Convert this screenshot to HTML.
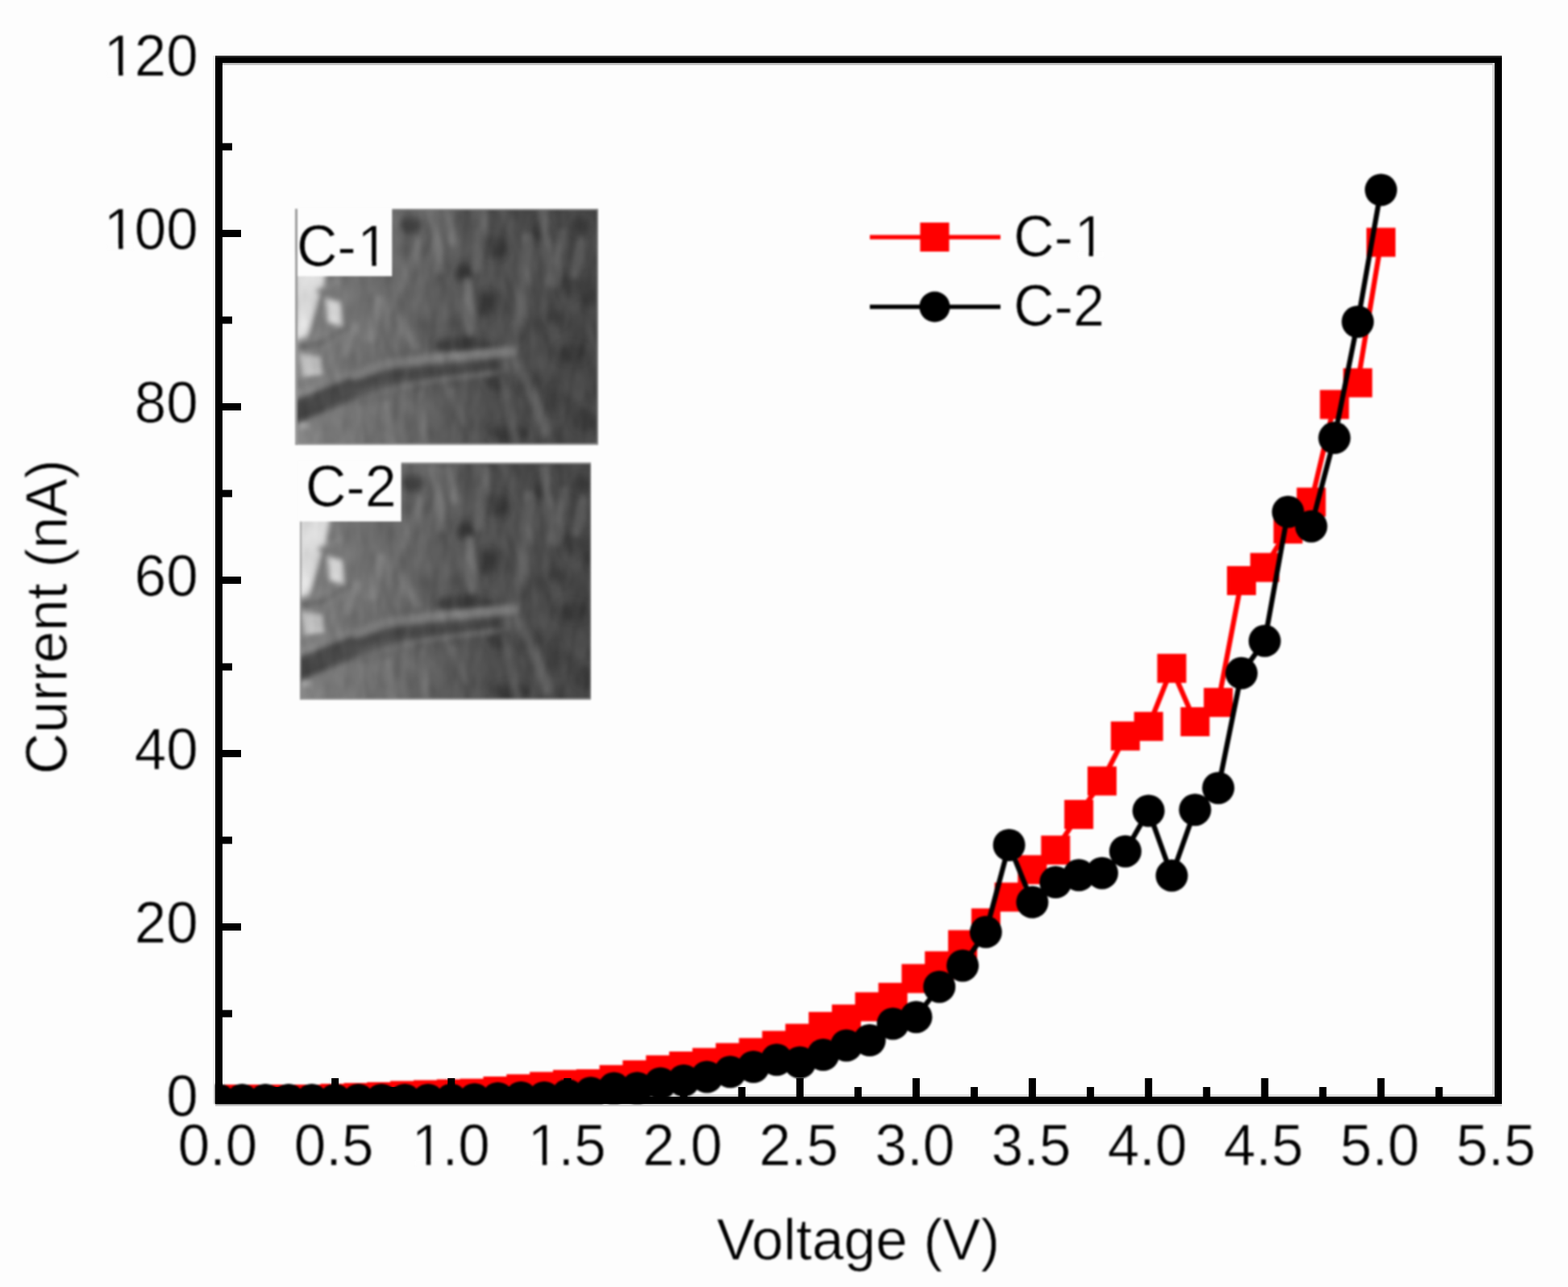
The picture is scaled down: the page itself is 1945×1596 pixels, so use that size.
<!DOCTYPE html>
<html lang="en"><head><meta charset="utf-8"><title>I-V curve: Current (nA) vs Voltage (V)</title>
<style>html,body{margin:0;padding:0;background:#fdfdfd;overflow:hidden;}svg{display:block;}text{font-family:"Liberation Sans",Arial,sans-serif;fill:#000;stroke:#fdfdfd;stroke-width:0.7px;}</style>
</head><body>
<svg width="1945" height="1596" viewBox="0 0 1945 1596">
<defs><clipPath id="plotclip"><rect x="267" y="69" width="1596" height="1300"/></clipPath>
<filter id="soft" x="0" y="0" width="1945" height="1596" filterUnits="userSpaceOnUse" color-interpolation-filters="sRGB"><feGaussianBlur stdDeviation="0.9"/></filter></defs>
<rect x="0" y="0" width="1945" height="1596" fill="#fdfdfd"/>
<rect x="276" y="78" width="1578" height="2.6" fill="#b9b9b9"/>
<rect x="1851.2" y="78" width="2.8" height="1282" fill="#d2d2d2"/>
<rect x="276" y="1357.2" width="1578" height="2.8" fill="#dadada"/>
<rect x="267" y="1369" width="1596" height="3" fill="#d4d4d4"/>
<rect x="264.3" y="69" width="2.7" height="1300" fill="#e9e9e9"/>
<g filter="url(#soft)">
<defs>
<linearGradient id="semg" x1="366" y1="0" x2="742" y2="0" gradientUnits="userSpaceOnUse">
<stop offset="0" stop-color="#8a8a8a"/><stop offset="0.1" stop-color="#787878"/><stop offset="0.3" stop-color="#6a6a6a"/><stop offset="0.5" stop-color="#5a5a5a"/><stop offset="0.65" stop-color="#4e4e4e"/><stop offset="1" stop-color="#464646"/>
</linearGradient>
<filter id="b3" x="-20%" y="-20%" width="140%" height="140%"><feGaussianBlur stdDeviation="3"/></filter>
<filter id="b5" x="-30%" y="-30%" width="160%" height="160%"><feGaussianBlur stdDeviation="5"/></filter>
<filter id="b2" x="-20%" y="-20%" width="140%" height="140%"><feGaussianBlur stdDeviation="3.2"/></filter>
<filter id="tex" x="0" y="0" width="100%" height="100%" color-interpolation-filters="sRGB">
<feTurbulence type="fractalNoise" baseFrequency="0.07 0.028" numOctaves="2" seed="7" result="n"/>
<feColorMatrix in="n" type="matrix" values="1 0 0 0 0  1 0 0 0 0  1 0 0 0 0  0 0 0 0 1" result="g"/>
<feGaussianBlur in="g" stdDeviation="1.2" result="gb"/>
<feComposite in="SourceGraphic" in2="gb" operator="arithmetic" k1="0" k2="1" k3="0.13" k4="-0.065"/>
</filter>
<clipPath id="c1"><rect x="366.3" y="258.9" width="375.5" height="292.7"/></clipPath>
<clipPath id="c2"><rect x="369.8" y="253.8" width="360.9" height="293.6"/></clipPath>
<g id="sem">
<g filter="url(#tex)">
<rect x="340" y="240" width="430" height="330" fill="url(#semg)"/>
<!-- dark patches -->
<g filter="url(#b5)" fill="#363636" opacity="0.8">
<ellipse cx="510" cy="279" rx="14" ry="11"/>
<ellipse cx="612" cy="306" rx="15" ry="15"/>
<ellipse cx="672" cy="286" rx="9" ry="13"/>
<ellipse cx="603" cy="378" rx="10" ry="16"/>
<ellipse cx="574" cy="429" rx="36" ry="11"/>
<ellipse cx="642" cy="413" rx="6" ry="13"/>
<ellipse cx="709" cy="438" rx="20" ry="11"/>
<ellipse cx="615" cy="473" rx="13" ry="12"/>
<ellipse cx="652" cy="476" rx="7" ry="10"/>
<ellipse cx="631" cy="538" rx="24" ry="10"/>
<ellipse cx="705" cy="355" rx="8" ry="16"/>
<ellipse cx="733" cy="362" rx="7" ry="22"/>
<ellipse cx="689" cy="496" rx="8" ry="16"/>
<ellipse cx="725" cy="520" rx="14" ry="14"/>
<ellipse cx="575" cy="340" rx="10" ry="12"/>
<ellipse cx="720" cy="280" rx="12" ry="10"/>
<ellipse cx="690" cy="395" rx="10" ry="10"/>
</g>
<!-- light fibres -->
<g filter="url(#b2)" stroke="#7a7a7a" fill="none" stroke-linecap="round" opacity="0.62">
<path d="M538 262 L545 334" stroke-width="13" stroke="#7e7e7e"/>
<path d="M553 262 L561 300" stroke-width="10"/>
<path d="M580 350 L583 410" stroke-width="13" stroke="#787878"/>
<path d="M601 262 L591 334" stroke-width="11" stroke="#727272"/>
<path d="M654 296 L647 378 L633 438" stroke-width="14" stroke="#6e6e6e"/>
<path d="M672 262 L684 350" stroke-width="11" stroke="#6c6c6c"/>
<path d="M697 288 L687 352" stroke-width="11" stroke="#6a6a6a"/>
<path d="M722 300 L712 340" stroke-width="11" stroke="#666"/>
<path d="M638 447 L663 493 L676 535" stroke-width="13" stroke="#686868"/>
<path d="M625 470 L640 548" stroke-width="10" stroke="#626262"/>
<path d="M520 300 L500 355" stroke-width="11" stroke="#787878"/>
<path d="M470 372 L459 420" stroke-width="11" stroke="#8a8a8a"/>
<path d="M440 405 L428 440" stroke-width="10" stroke="#8c8c8c"/>
<path d="M495 395 L515 430" stroke-width="10" stroke="#7c7c7c"/>
<path d="M480 500 L484 548" stroke-width="8" stroke="#808080"/>
<path d="M498 490 L503 548" stroke-width="6" stroke="#7c7c7c"/>
<path d="M522 488 L528 548" stroke-width="8" stroke="#787878"/>
<path d="M560 484 L575 525" stroke-width="8" stroke="#727272"/>
<path d="M445 505 L450 548" stroke-width="8" stroke="#848484"/>
</g>
<!-- bright left region -->
<g filter="url(#b3)">
<path d="M366 316 L408 316 L399 368 L380 418 L366 422 Z" fill="#dcdcdc"/>
<path d="M406 372 L420 376 L422 402 L408 398 Z" fill="#d6d6d6" stroke="#d6d6d6" stroke-width="4"/>
<path d="M374 440 L396 444 L398 464 L378 466 Z" fill="#c4c4c4" stroke="#c4c4c4" stroke-width="4"/>
<ellipse cx="377" cy="527" rx="6" ry="5" fill="#b0b0b0"/>
<path d="M384 422 L402 356" stroke="#6e6e6e" stroke-width="7" fill="none"/>
<path d="M392 362 L420 348" stroke="#858585" stroke-width="5" fill="none"/>
<path d="M372 430 L400 425 L430 405" stroke="#666" stroke-width="6" fill="none"/>
</g>
<!-- main fibre -->
<g filter="url(#b3)" fill="none" stroke-linecap="butt">
<path d="M350 516 C395 500 430 486 458 474 C490 463 540 460 632 449" stroke="#585858" stroke-width="28"/>
<path d="M350 478 C400 474 430 470 474 453 C500 447 550 443 640 435" stroke="#7c7c7c" stroke-width="11"/>
<path d="M430 482 C460 470 500 463 551 460 C580 457 600 455 622 451" stroke="#464646" stroke-width="14"/>
<path d="M350 517 C380 505 410 492 440 479" stroke="#4a4a4a" stroke-width="25"/>
<path d="M440 497 C470 484 520 472 610 463" stroke="#727272" stroke-width="4"/>
</g>
</g>
</g>
</defs>
<g id="inset1">
<use href="#sem" clip-path="url(#c1)"/>
<rect x="366.3" y="258.9" width="2.8" height="292.7" fill="#9a9a9a"/>
<rect x="486" y="258.9" width="255.8" height="2.2" fill="#8c8c8c" opacity="0.8"/>
<rect x="739.8" y="258.9" width="2" height="292.7" fill="#8a8a8a" opacity="0.7"/>
<rect x="366.3" y="549.4" width="375.5" height="2.2" fill="#9a9a9a" opacity="0.8"/>
<rect x="369" y="258" width="117.3" height="84.5" fill="#fdfdfd"/>
<text transform="translate(368.00,330.00) scale(1,1.025)" font-size="70">C-<tspan dx="1.5">1</tspan></text><rect x="447.56" y="323.84" width="13.81" height="7.23" fill="#fdfdfd"/><rect x="466.75" y="323.84" width="13.36" height="7.23" fill="#fdfdfd"/>
</g>
<g id="inset2">
<g transform="translate(2.3,320)"><use href="#sem" clip-path="url(#c2)"/></g>
<rect x="497" y="573.8" width="236" height="2.2" fill="#8c8c8c" opacity="0.8"/>
<rect x="372.1" y="573.8" width="2" height="293.6" fill="#8e8e8e" opacity="0.7"/>
<rect x="731" y="573.8" width="2" height="293.6" fill="#8a8a8a" opacity="0.5"/>
<rect x="372.1" y="865.4" width="360.9" height="2" fill="#9a9a9a" opacity="0.7"/>
<rect x="370" y="572" width="127.7" height="74.7" fill="#fdfdfd"/>
<text transform="translate(379.00,627.50) scale(1,1.025)" font-size="70">C-2</text>
</g>

<g clip-path="url(#plotclip)">
<polyline points="271.5,1363.0 300.3,1363.0 329.2,1363.0 358.0,1363.0 386.8,1363.0 415.6,1362.0 444.5,1361.0 473.3,1360.0 502.1,1358.5 531.0,1357.5 559.8,1356.5 588.6,1355.7 617.5,1353.0 646.3,1350.2 675.1,1347.3 704.0,1344.8 732.8,1344.0 761.6,1338.8 790.4,1332.9 819.3,1326.7 848.1,1322.0 876.9,1317.6 905.8,1311.5 934.6,1305.3 963.4,1296.4 992.2,1287.6 1021.1,1272.9 1049.9,1263.7 1078.7,1248.5 1107.6,1236.8 1136.4,1213.5 1165.2,1197.7 1194.1,1171.5 1222.9,1144.5 1251.7,1112.5 1280.5,1078.5 1309.4,1054.2 1338.2,1010.0 1367.0,968.5 1395.9,912.7 1424.7,900.8 1453.5,828.8 1482.4,895.0 1511.2,871.1 1540.0,720.0 1568.8,703.7 1597.7,656.1 1626.5,622.7 1655.3,501.6 1684.2,474.7 1713.0,300.5" fill="none" stroke="#ff0000" stroke-width="6.3" stroke-linejoin="round"/>
<rect x="253.5" y="1345.0" width="36" height="36" fill="#ff0000"/>
<rect x="282.3" y="1345.0" width="36" height="36" fill="#ff0000"/>
<rect x="311.2" y="1345.0" width="36" height="36" fill="#ff0000"/>
<rect x="340.0" y="1345.0" width="36" height="36" fill="#ff0000"/>
<rect x="368.8" y="1345.0" width="36" height="36" fill="#ff0000"/>
<rect x="397.6" y="1344.0" width="36" height="36" fill="#ff0000"/>
<rect x="426.5" y="1343.0" width="36" height="36" fill="#ff0000"/>
<rect x="455.3" y="1342.0" width="36" height="36" fill="#ff0000"/>
<rect x="484.1" y="1340.5" width="36" height="36" fill="#ff0000"/>
<rect x="513.0" y="1339.5" width="36" height="36" fill="#ff0000"/>
<rect x="541.8" y="1338.5" width="36" height="36" fill="#ff0000"/>
<rect x="570.6" y="1337.7" width="36" height="36" fill="#ff0000"/>
<rect x="599.5" y="1335.0" width="36" height="36" fill="#ff0000"/>
<rect x="628.3" y="1332.2" width="36" height="36" fill="#ff0000"/>
<rect x="657.1" y="1329.3" width="36" height="36" fill="#ff0000"/>
<rect x="686.0" y="1326.8" width="36" height="36" fill="#ff0000"/>
<rect x="714.8" y="1326.0" width="36" height="36" fill="#ff0000"/>
<rect x="743.6" y="1320.8" width="36" height="36" fill="#ff0000"/>
<rect x="772.4" y="1314.9" width="36" height="36" fill="#ff0000"/>
<rect x="801.3" y="1308.7" width="36" height="36" fill="#ff0000"/>
<rect x="830.1" y="1304.0" width="36" height="36" fill="#ff0000"/>
<rect x="858.9" y="1299.6" width="36" height="36" fill="#ff0000"/>
<rect x="887.8" y="1293.5" width="36" height="36" fill="#ff0000"/>
<rect x="916.6" y="1287.3" width="36" height="36" fill="#ff0000"/>
<rect x="945.4" y="1278.4" width="36" height="36" fill="#ff0000"/>
<rect x="974.2" y="1269.6" width="36" height="36" fill="#ff0000"/>
<rect x="1003.1" y="1254.9" width="36" height="36" fill="#ff0000"/>
<rect x="1031.9" y="1245.7" width="36" height="36" fill="#ff0000"/>
<rect x="1060.7" y="1230.5" width="36" height="36" fill="#ff0000"/>
<rect x="1089.6" y="1218.8" width="36" height="36" fill="#ff0000"/>
<rect x="1118.4" y="1195.5" width="36" height="36" fill="#ff0000"/>
<rect x="1147.2" y="1179.7" width="36" height="36" fill="#ff0000"/>
<rect x="1176.1" y="1153.5" width="36" height="36" fill="#ff0000"/>
<rect x="1204.9" y="1126.5" width="36" height="36" fill="#ff0000"/>
<rect x="1233.7" y="1094.5" width="36" height="36" fill="#ff0000"/>
<rect x="1262.5" y="1060.5" width="36" height="36" fill="#ff0000"/>
<rect x="1291.4" y="1036.2" width="36" height="36" fill="#ff0000"/>
<rect x="1320.2" y="992.0" width="36" height="36" fill="#ff0000"/>
<rect x="1349.0" y="950.5" width="36" height="36" fill="#ff0000"/>
<rect x="1377.9" y="894.7" width="36" height="36" fill="#ff0000"/>
<rect x="1406.7" y="882.8" width="36" height="36" fill="#ff0000"/>
<rect x="1435.5" y="810.8" width="36" height="36" fill="#ff0000"/>
<rect x="1464.4" y="877.0" width="36" height="36" fill="#ff0000"/>
<rect x="1493.2" y="853.1" width="36" height="36" fill="#ff0000"/>
<rect x="1522.0" y="702.0" width="36" height="36" fill="#ff0000"/>
<rect x="1550.8" y="685.7" width="36" height="36" fill="#ff0000"/>
<rect x="1579.7" y="638.1" width="36" height="36" fill="#ff0000"/>
<rect x="1608.5" y="604.7" width="36" height="36" fill="#ff0000"/>
<rect x="1637.3" y="483.6" width="36" height="36" fill="#ff0000"/>
<rect x="1666.2" y="456.7" width="36" height="36" fill="#ff0000"/>
<rect x="1695.0" y="282.5" width="36" height="36" fill="#ff0000"/>
<polyline points="271.5,1364.0 300.3,1364.0 329.2,1364.0 358.0,1364.0 386.8,1364.0 415.6,1364.0 444.5,1364.0 473.3,1364.0 502.1,1364.0 531.0,1364.0 559.8,1363.8 588.6,1363.2 617.5,1362.0 646.3,1361.0 675.1,1361.0 704.0,1358.0 732.8,1355.3 761.6,1349.6 790.4,1349.3 819.3,1343.4 848.1,1340.0 876.9,1335.5 905.8,1329.3 934.6,1323.0 963.4,1314.3 992.2,1317.5 1021.1,1308.0 1049.9,1296.5 1078.7,1290.0 1107.6,1269.5 1136.4,1261.2 1165.2,1223.7 1194.1,1197.4 1222.9,1155.8 1251.7,1047.9 1280.5,1118.8 1309.4,1094.1 1338.2,1085.3 1367.0,1082.7 1395.9,1055.7 1424.7,1005.4 1453.5,1085.8 1482.4,1004.2 1511.2,977.2 1540.0,834.8 1568.8,794.8 1597.7,634.8 1626.5,652.7 1655.3,543.1 1684.2,399.0 1713.0,235.5" fill="none" stroke="#000" stroke-width="6.3" stroke-linejoin="round"/>
<circle cx="271.5" cy="1364.0" r="20" fill="#000"/>
<circle cx="300.3" cy="1364.0" r="20" fill="#000"/>
<circle cx="329.2" cy="1364.0" r="20" fill="#000"/>
<circle cx="358.0" cy="1364.0" r="20" fill="#000"/>
<circle cx="386.8" cy="1364.0" r="20" fill="#000"/>
<circle cx="415.6" cy="1364.0" r="20" fill="#000"/>
<circle cx="444.5" cy="1364.0" r="20" fill="#000"/>
<circle cx="473.3" cy="1364.0" r="20" fill="#000"/>
<circle cx="502.1" cy="1364.0" r="20" fill="#000"/>
<circle cx="531.0" cy="1364.0" r="20" fill="#000"/>
<circle cx="559.8" cy="1363.8" r="20" fill="#000"/>
<circle cx="588.6" cy="1363.2" r="20" fill="#000"/>
<circle cx="617.5" cy="1362.0" r="20" fill="#000"/>
<circle cx="646.3" cy="1361.0" r="20" fill="#000"/>
<circle cx="675.1" cy="1361.0" r="20" fill="#000"/>
<circle cx="704.0" cy="1358.0" r="20" fill="#000"/>
<circle cx="732.8" cy="1355.3" r="20" fill="#000"/>
<circle cx="761.6" cy="1349.6" r="20" fill="#000"/>
<circle cx="790.4" cy="1349.3" r="20" fill="#000"/>
<circle cx="819.3" cy="1343.4" r="20" fill="#000"/>
<circle cx="848.1" cy="1340.0" r="20" fill="#000"/>
<circle cx="876.9" cy="1335.5" r="20" fill="#000"/>
<circle cx="905.8" cy="1329.3" r="20" fill="#000"/>
<circle cx="934.6" cy="1323.0" r="20" fill="#000"/>
<circle cx="963.4" cy="1314.3" r="20" fill="#000"/>
<circle cx="992.2" cy="1317.5" r="20" fill="#000"/>
<circle cx="1021.1" cy="1308.0" r="20" fill="#000"/>
<circle cx="1049.9" cy="1296.5" r="20" fill="#000"/>
<circle cx="1078.7" cy="1290.0" r="20" fill="#000"/>
<circle cx="1107.6" cy="1269.5" r="20" fill="#000"/>
<circle cx="1136.4" cy="1261.2" r="20" fill="#000"/>
<circle cx="1165.2" cy="1223.7" r="20" fill="#000"/>
<circle cx="1194.1" cy="1197.4" r="20" fill="#000"/>
<circle cx="1222.9" cy="1155.8" r="20" fill="#000"/>
<circle cx="1251.7" cy="1047.9" r="20" fill="#000"/>
<circle cx="1280.5" cy="1118.8" r="20" fill="#000"/>
<circle cx="1309.4" cy="1094.1" r="20" fill="#000"/>
<circle cx="1338.2" cy="1085.3" r="20" fill="#000"/>
<circle cx="1367.0" cy="1082.7" r="20" fill="#000"/>
<circle cx="1395.9" cy="1055.7" r="20" fill="#000"/>
<circle cx="1424.7" cy="1005.4" r="20" fill="#000"/>
<circle cx="1453.5" cy="1085.8" r="20" fill="#000"/>
<circle cx="1482.4" cy="1004.2" r="20" fill="#000"/>
<circle cx="1511.2" cy="977.2" r="20" fill="#000"/>
<circle cx="1540.0" cy="834.8" r="20" fill="#000"/>
<circle cx="1568.8" cy="794.8" r="20" fill="#000"/>
<circle cx="1597.7" cy="634.8" r="20" fill="#000"/>
<circle cx="1626.5" cy="652.7" r="20" fill="#000"/>
<circle cx="1655.3" cy="543.1" r="20" fill="#000"/>
<circle cx="1684.2" cy="399.0" r="20" fill="#000"/>
<circle cx="1713.0" cy="235.5" r="20" fill="#000"/>
</g>
</g>
<rect x="271.5" y="73.5" width="1587" height="1291" fill="none" stroke="#000" stroke-width="9"/>
<rect x="267" y="69" width="1596" height="2" fill="#333"/>
<rect x="276" y="1252.50" width="12" height="9" fill="#000"/>
<rect x="276" y="1145.00" width="23" height="9" fill="#000"/>
<rect x="276" y="1037.50" width="12" height="9" fill="#000"/>
<rect x="276" y="930.00" width="23" height="9" fill="#000"/>
<rect x="276" y="822.50" width="12" height="9" fill="#000"/>
<rect x="276" y="715.00" width="23" height="9" fill="#000"/>
<rect x="276" y="607.50" width="12" height="9" fill="#000"/>
<rect x="276" y="500.00" width="23" height="9" fill="#000"/>
<rect x="276" y="392.50" width="12" height="9" fill="#000"/>
<rect x="276" y="285.00" width="23" height="9" fill="#000"/>
<rect x="276" y="177.50" width="12" height="9" fill="#000"/>
<rect x="339.07" y="1348" width="9" height="12" fill="#000"/>
<rect x="411.15" y="1337" width="9" height="23" fill="#000"/>
<rect x="483.23" y="1348" width="9" height="12" fill="#000"/>
<rect x="555.30" y="1337" width="9" height="23" fill="#000"/>
<rect x="627.38" y="1348" width="9" height="12" fill="#000"/>
<rect x="699.45" y="1337" width="9" height="23" fill="#000"/>
<rect x="771.52" y="1348" width="9" height="12" fill="#000"/>
<rect x="843.60" y="1337" width="9" height="23" fill="#000"/>
<rect x="915.67" y="1348" width="9" height="12" fill="#000"/>
<rect x="987.75" y="1337" width="9" height="23" fill="#000"/>
<rect x="1059.83" y="1348" width="9" height="12" fill="#000"/>
<rect x="1131.90" y="1337" width="9" height="23" fill="#000"/>
<rect x="1203.97" y="1348" width="9" height="12" fill="#000"/>
<rect x="1276.05" y="1337" width="9" height="23" fill="#000"/>
<rect x="1348.12" y="1348" width="9" height="12" fill="#000"/>
<rect x="1420.20" y="1337" width="9" height="23" fill="#000"/>
<rect x="1492.27" y="1348" width="9" height="12" fill="#000"/>
<rect x="1564.35" y="1337" width="9" height="23" fill="#000"/>
<rect x="1636.42" y="1348" width="9" height="12" fill="#000"/>
<rect x="1708.50" y="1337" width="9" height="23" fill="#000"/>
<rect x="1780.57" y="1348" width="9" height="12" fill="#000"/>
<g filter="url(#soft)">
<text transform="translate(206.31,1383.80) scale(1,1.025)" font-size="71">0</text>
<text transform="translate(166.83,1168.80) scale(1,1.025)" font-size="71">20</text>
<text transform="translate(166.83,953.80) scale(1,1.025)" font-size="71">40</text>
<text transform="translate(166.83,738.80) scale(1,1.025)" font-size="71">60</text>
<text transform="translate(166.83,523.80) scale(1,1.025)" font-size="71">80</text>
<text transform="translate(127.34,308.80) scale(1,1.025)" font-size="71"><tspan dx="1.5">1</tspan><tspan dx="-1.5">00</tspan></text><rect x="133.10" y="302.56" width="14.00" height="7.30" fill="#fdfdfd"/><rect x="152.57" y="302.56" width="13.55" height="7.30" fill="#fdfdfd"/>
<text transform="translate(127.34,93.80) scale(1,1.025)" font-size="71"><tspan dx="1.5">1</tspan><tspan dx="-1.5">20</tspan></text><rect x="133.10" y="87.56" width="14.00" height="7.30" fill="#fdfdfd"/><rect x="152.57" y="87.56" width="13.55" height="7.30" fill="#fdfdfd"/>
<text transform="translate(220.65,1445.00) scale(1,1.025)" font-size="71">0.0</text>
<text transform="translate(364.80,1445.00) scale(1,1.025)" font-size="71">0.5</text>
<text transform="translate(508.95,1445.00) scale(1,1.025)" font-size="71"><tspan dx="1.5">1</tspan><tspan dx="-1.5">.0</tspan></text><rect x="514.71" y="1438.76" width="14.00" height="7.30" fill="#fdfdfd"/><rect x="534.18" y="1438.76" width="13.55" height="7.30" fill="#fdfdfd"/>
<text transform="translate(653.10,1445.00) scale(1,1.025)" font-size="71"><tspan dx="1.5">1</tspan><tspan dx="-1.5">.5</tspan></text><rect x="658.86" y="1438.76" width="14.00" height="7.30" fill="#fdfdfd"/><rect x="678.33" y="1438.76" width="13.55" height="7.30" fill="#fdfdfd"/>
<text transform="translate(797.25,1445.00) scale(1,1.025)" font-size="71">2.0</text>
<text transform="translate(941.40,1445.00) scale(1,1.025)" font-size="71">2.5</text>
<text transform="translate(1085.55,1445.00) scale(1,1.025)" font-size="71">3.0</text>
<text transform="translate(1229.70,1445.00) scale(1,1.025)" font-size="71">3.5</text>
<text transform="translate(1373.85,1445.00) scale(1,1.025)" font-size="71">4.0</text>
<text transform="translate(1518.00,1445.00) scale(1,1.025)" font-size="71">4.5</text>
<text transform="translate(1662.15,1445.00) scale(1,1.025)" font-size="71">5.0</text>
<text transform="translate(1806.30,1445.00) scale(1,1.025)" font-size="71">5.5</text>
<text transform="translate(1064.5,1561.5) scale(1,1.025)" font-size="71" text-anchor="middle">Voltage (V)</text>
<text transform="translate(82.3,765) rotate(-90) scale(1,1.025)" font-size="71" text-anchor="middle">Current (nA)</text>
<rect x="1079" y="291.4" width="162" height="5.4" fill="#ff0000"/>
<rect x="1141.4" y="276" width="36" height="36" fill="#ff0000"/>
<rect x="1079" y="377.8" width="162" height="5.4" fill="#000"/>
<circle cx="1159.4" cy="380.5" r="19" fill="#000"/>
<text transform="translate(1257.30,318.20) scale(1,1.025)" font-size="70">C-<tspan dx="1.5">1</tspan></text><rect x="1336.86" y="312.04" width="13.81" height="7.23" fill="#fdfdfd"/><rect x="1356.05" y="312.04" width="13.36" height="7.23" fill="#fdfdfd"/>
<text transform="translate(1257.30,404.20) scale(1,1.025)" font-size="70">C-2</text>
</g>
</svg>
</body></html>
